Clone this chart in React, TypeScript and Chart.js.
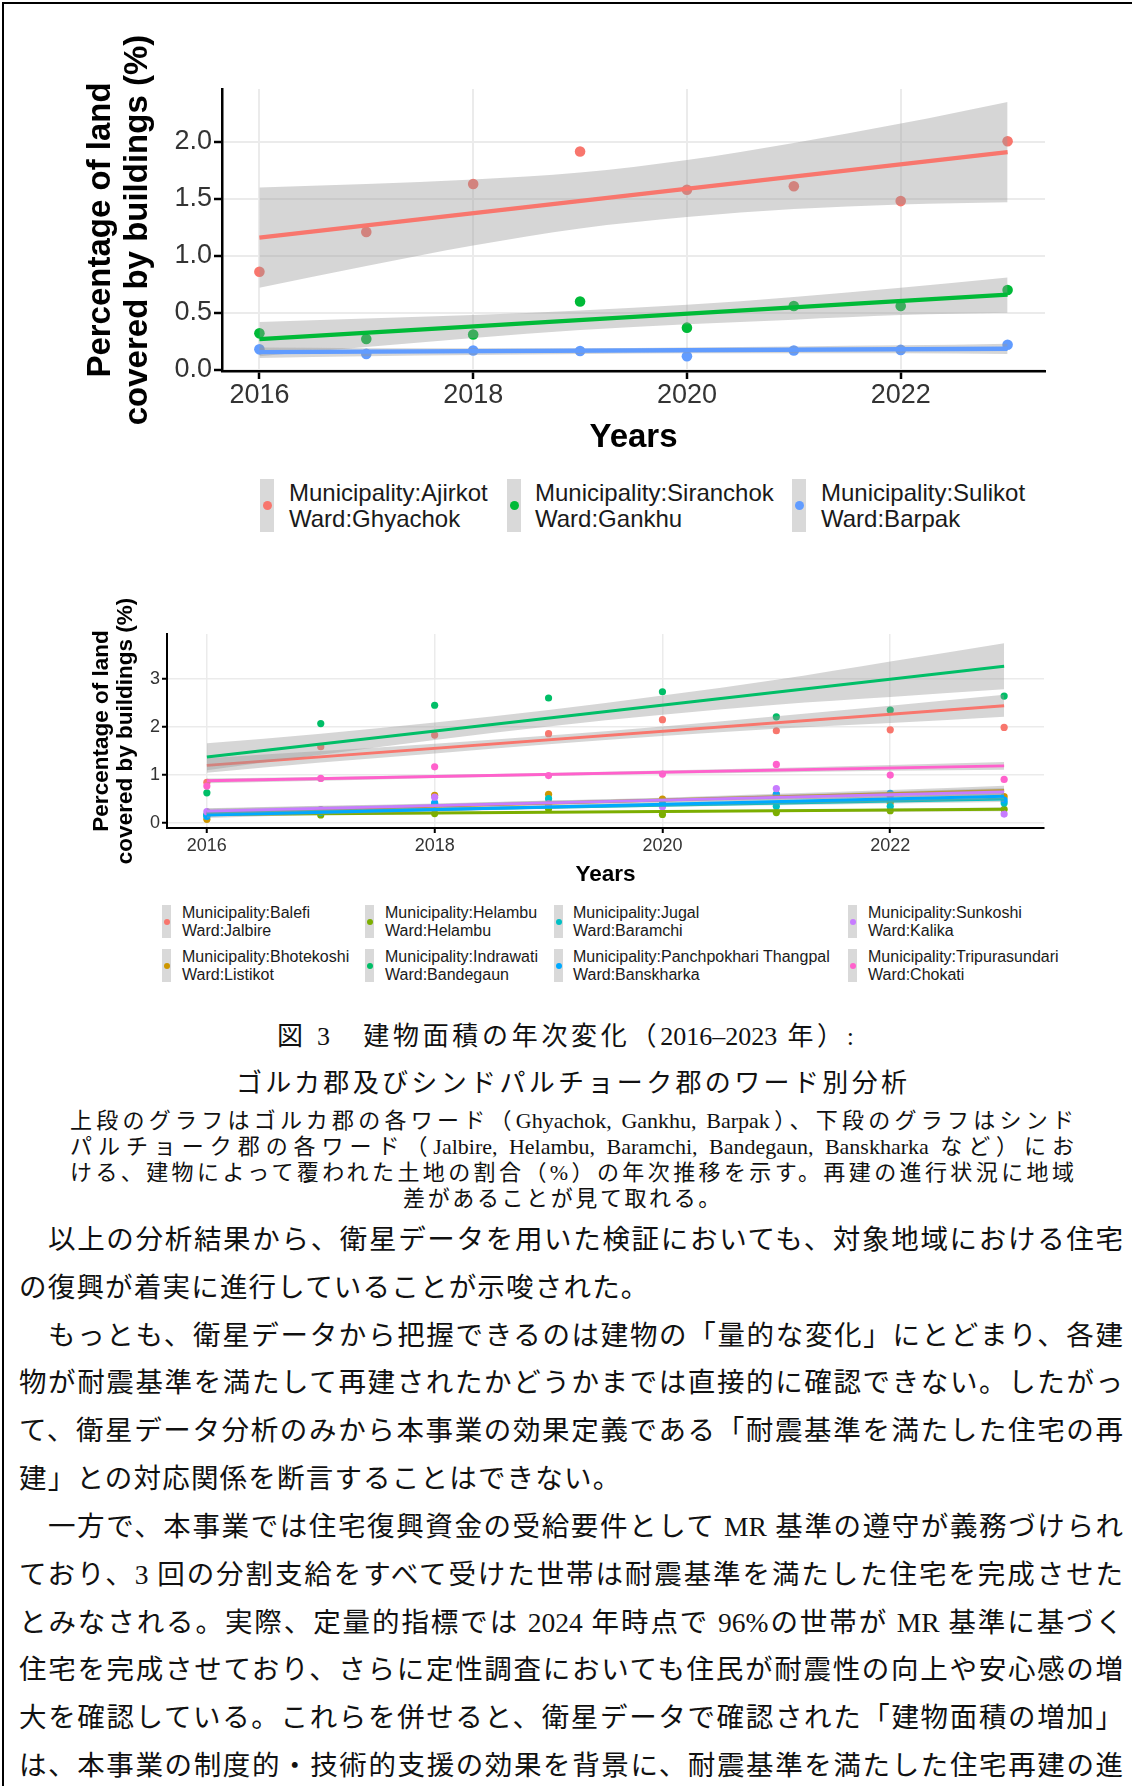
import React, { useEffect, useRef } from "react";
import { Chart, registerables } from "chart.js";

Chart.register(...registerables);

const SANS = '"Liberation Sans", Arial, Helvetica, sans-serif';
const SERIF_JP = '"Liberation Serif", "Noto Sans CJK JP", serif';

// ---------- shared ----------
const years = [2016, 2017, 2018, 2019, 2020, 2021, 2022, 2023];
const fitYears = [2016, 2023];
const xTickValues = [2016, 2018, 2020, 2022];
const xTickLabels = ["2016", "2018", "2020", "2022"];
const xAxisTitle = "Years";
const yAxisTitle = ["Percentage of land", "covered by buildings (%)"];

// ---------- top chart (Gorkha) ----------
const topMunicipalities = ["Municipality:Ajirkot", "Municipality:Siranchok", "Municipality:Sulikot"];
const topWards = ["Ward:Ghyachok", "Ward:Gankhu", "Ward:Barpak"];
const topColors = ["#F8766D", "#00BA38", "#619CFF"];
const ghyachokValues = [0.86, 1.21, 1.63, 1.915, 1.58, 1.61, 1.48, 2.005];
const gankhuValues = [0.32, 0.27, 0.31, 0.6, 0.37, 0.56, 0.56, 0.7];
const barpakValues = [0.18, 0.14, 0.17, 0.165, 0.12, 0.17, 0.175, 0.22];
const ghyachokFit = [1.16, 1.91];
const gankhuFit = [0.27, 0.66];
const barpakFit = [0.155, 0.185];
const ghyachokUpper = [1.6, 1.63, 1.67, 1.73, 1.84, 1.99, 2.16, 2.35];
const ghyachokLower = [0.72, 0.91, 1.09, 1.24, 1.34, 1.41, 1.45, 1.47];
const gankhuUpper = [0.42, 0.45, 0.48, 0.52, 0.57, 0.64, 0.72, 0.81];
const gankhuLower = [0.12, 0.2, 0.28, 0.35, 0.4, 0.44, 0.48, 0.5];
const barpakUpper = [0.195, 0.19, 0.19, 0.19, 0.195, 0.205, 0.215, 0.23];
const barpakLower = [0.105, 0.12, 0.13, 0.14, 0.145, 0.145, 0.145, 0.14];
const topYTickValues = [0, 0.5, 1, 1.5, 2];
const topYTickLabels = ["0.0", "0.5", "1.0", "1.5", "2.0"];

// ---------- bottom chart (Sindhupalchok) ----------
const bottomMunicipalities = [
  "Municipality:Balefi",
  "Municipality:Bhotekoshi",
  "Municipality:Helambu",
  "Municipality:Indrawati",
  "Municipality:Jugal",
  "Municipality:Panchpokhari Thangpal",
  "Municipality:Sunkoshi",
  "Municipality:Tripurasundari",
];
const bottomWards = [
  "Ward:Jalbire",
  "Ward:Listikot",
  "Ward:Helambu",
  "Ward:Bandegaun",
  "Ward:Baramchi",
  "Ward:Banskharka",
  "Ward:Kalika",
  "Ward:Chokati",
];
const bottomColors = ["#F8766D", "#CD9600", "#7CAE00", "#00BE67", "#00BFC4", "#00A9FF", "#C77CFF", "#FF61CC"];
const jalbireValues = [0.85, 1.59, 1.83, 1.86, 2.15, 1.92, 1.94, 1.99];
const listikotValues = [0.08, 0.22, 0.58, 0.6, 0.5, 0.6, 0.43, 0.55];
const helambuValues = [0.17, 0.17, 0.2, 0.3, 0.18, 0.22, 0.26, 0.29];
const bandegaunValues = [0.63, 2.07, 2.45, 2.6, 2.73, 2.21, 2.35, 2.64];
const baramchiValues = [0.18, 0.22, 0.4, 0.51, 0.4, 0.35, 0.35, 0.42];
const banskharkaValues = [0.14, 0.24, 0.42, 0.38, 0.38, 0.6, 0.62, 0.48];
const kalikaValues = [0.24, 0.28, 0.54, 0.4, 0.34, 0.72, 0.55, 0.19];
const chokatiValues = [0.77, 0.93, 1.17, 0.99, 1.02, 1.22, 1.0, 0.91];

const jalbireFit = [1.2, 2.44];
const listikotFit = [0.22, 0.68];
const helambuFit = [0.18, 0.29];
const bandegaunFit = [1.375, 3.26];
const baramchiFit = [0.2, 0.5];
const banskharkaFit = [0.17, 0.56];
const kalikaFit = [0.25, 0.65];
const chokatiFit = [0.88, 1.19];

const jalbireUpper = [1.35, 1.5, 1.65, 1.82, 2.01, 2.22, 2.44, 2.67];
const jalbireLower = [1.05, 1.26, 1.45, 1.64, 1.81, 1.96, 2.08, 2.21];
const listikotUpper = [0.3, 0.35, 0.4, 0.47, 0.53, 0.61, 0.69, 0.78];
const listikotLower = [0.14, 0.23, 0.3, 0.37, 0.43, 0.49, 0.53, 0.58];
const helambuUpper = [0.22, 0.23, 0.235, 0.25, 0.26, 0.285, 0.3, 0.33];
const helambuLower = [0.14, 0.17, 0.185, 0.21, 0.22, 0.235, 0.24, 0.25];
const bandegaunUpper = [1.66, 1.86, 2.09, 2.35, 2.65, 2.98, 3.36, 3.74];
const bandegaunLower = [1.1, 1.42, 1.73, 2.01, 2.25, 2.46, 2.62, 2.78];
const baramchiUpper = [0.25, 0.28, 0.32, 0.36, 0.4, 0.45, 0.51, 0.56];
const baramchiLower = [0.15, 0.2, 0.26, 0.3, 0.34, 0.37, 0.41, 0.44];
const banskharkaUpper = [0.23, 0.28, 0.32, 0.375, 0.43, 0.5, 0.56, 0.63];
const banskharkaLower = [0.11, 0.18, 0.24, 0.305, 0.35, 0.4, 0.44, 0.49];
const kalikaUpper = [0.31, 0.36, 0.41, 0.465, 0.52, 0.59, 0.66, 0.73];
const kalikaLower = [0.19, 0.26, 0.33, 0.395, 0.44, 0.49, 0.54, 0.59];
const chokatiUpper = [0.93, 0.96, 1.0, 1.04, 1.095, 1.145, 1.21, 1.27];
const chokatiLower = [0.83, 0.88, 0.94, 0.98, 1.025, 1.055, 1.09, 1.11];
const bottomYTickValues = [0, 1, 2, 3];
const bottomYTickLabels = ["0", "1", "2", "3"];

// ---------- text ----------
const captionTitle = ["図 3　建物面積の年次変化（2016–2023 年）:", "ゴルカ郡及びシンドパルチョーク郡のワード別分析"];
const captionNote = [
  "上段のグラフはゴルカ郡の各ワード（Ghyachok, Gankhu, Barpak）、下段のグラフはシンド",
  "パルチョーク郡の各ワード（Jalbire, Helambu, Baramchi, Bandegaun, Banskharka など）にお",
  "ける、建物によって覆われた土地の割合（%）の年次推移を示す。再建の進行状況に地域",
  "差があることが見て取れる。",
];
const bodyLines = [
  "以上の分析結果から、衛星データを用いた検証においても、対象地域における住宅",
  "の復興が着実に進行していることが示唆された。",
  "もっとも、衛星データから把握できるのは建物の「量的な変化」にとどまり、各建",
  "物が耐震基準を満たして再建されたかどうかまでは直接的に確認できない。したがっ",
  "て、衛星データ分析のみから本事業の効果定義である「耐震基準を満たした住宅の再",
  "建」との対応関係を断言することはできない。",
  "一方で、本事業では住宅復興資金の受給要件として MR 基準の遵守が義務づけられ",
  "ており、3 回の分割支給をすべて受けた世帯は耐震基準を満たした住宅を完成させた",
  "とみなされる。実際、定量的指標では 2024 年時点で 96%の世帯が MR 基準に基づく",
  "住宅を完成させており、さらに定性調査においても住民が耐震性の向上や安心感の増",
  "大を確認している。これらを併せると、衛星データで確認された「建物面積の増加」",
  "は、本事業の制度的・技術的支援の効果を背景に、耐震基準を満たした住宅再建の進",
];
const bodyIndent = [true, false, true, false, false, false, true, false, false, false, false, false];
const bodyJustify = [true, false, true, true, true, false, true, true, true, true, true, true];

type Spec = {
  points: number[][];
  fits: number[][];
  uppers: number[][];
  lowers: number[][];
  colors: string[];
  pointRadius: number;
  lineWidth: number;
  xMin: number;
  xMax: number;
  yMin: number;
  yMax: number;
  yTickValues: number[];
  yTickLabels: string[];
  padding: { left: number; right: number; top: number; bottom: number };
  yAxisWidth: number;
  xAxisHeight: number;
  tickFont: number;
  tickLen: number;
  xTickPad: number;
  yTickPad: number;
  axisWidth: number;
  gridWidth: number;
  titleFont: number;
  yTitleLineHeight: number;
  yTitlePadTop: number;
  xTitlePadBottom: number;
};

function buildConfig(s: Spec): any {
  const datasets: any[] = [];
  s.points.forEach((vals, g) => {
    datasets.push({
      data: years.map((x, i) => ({ x, y: vals[i] })),
      showLine: false,
      pointRadius: s.pointRadius,
      pointHoverRadius: s.pointRadius,
      pointBackgroundColor: s.colors[g],
      pointBorderWidth: 0,
      borderColor: s.colors[g],
      backgroundColor: s.colors[g],
      fill: false,
    });
  });
  s.points.forEach((_, g) => {
    datasets.push({
      data: years.map((x, i) => ({ x, y: s.lowers[g][i] })),
      borderWidth: 0,
      borderColor: "rgba(0,0,0,0)",
      pointRadius: 0,
      pointHoverRadius: 0,
      fill: false,
      cubicInterpolationMode: "monotone",
    });
    datasets.push({
      data: years.map((x, i) => ({ x, y: s.uppers[g][i] })),
      borderWidth: 0,
      borderColor: "rgba(0,0,0,0)",
      pointRadius: 0,
      pointHoverRadius: 0,
      fill: "-1",
      backgroundColor: "rgba(153,153,153,0.4)",
      cubicInterpolationMode: "monotone",
    });
    datasets.push({
      data: fitYears.map((x, i) => ({ x, y: s.fits[g][i] })),
      borderColor: s.colors[g],
      borderWidth: s.lineWidth,
      pointRadius: 0,
      pointHoverRadius: 0,
      fill: false,
      borderCapStyle: "butt",
    });
  });
  const n = datasets.length;
  datasets.forEach((d, i) => (d.order = n - i));

  const gridColor = "#ebebeb";
  const tickColor = "#333333";
  return {
    type: "line",
    data: { datasets },
    options: {
      animation: false,
      responsive: false,
      events: [],
      layout: { padding: s.padding },
      plugins: { legend: { display: false }, tooltip: { enabled: false } },
      scales: {
        x: {
          type: "linear",
          bounds: "data",
          min: s.xMin,
          max: s.xMax,
          afterBuildTicks: (sc: any) => {
            sc.ticks = xTickValues.map((v) => ({ value: v }));
          },
          afterFit: (sc: any) => {
            sc.height = s.xAxisHeight;
          },
          ticks: {
            callback: (_v: any, i: number) => xTickLabels[i],
            font: { size: s.tickFont, family: SANS },
            color: tickColor,
            padding: s.xTickPad,
            maxRotation: 0,
            autoSkip: false,
          },
          grid: {
            color: gridColor,
            lineWidth: s.gridWidth,
            drawTicks: true,
            tickLength: s.tickLen,
            tickColor: "#000",
            tickWidth: s.axisWidth,
          },
          border: { color: "#000", width: s.axisWidth },
          title: {
            display: true,
            text: xAxisTitle,
            color: "#000",
            font: { size: s.titleFont, weight: "bold", family: SANS, lineHeight: 1.2 },
            padding: { top: 0, bottom: s.xTitlePadBottom },
          },
        },
        y: {
          type: "linear",
          bounds: "data",
          min: s.yMin,
          max: s.yMax,
          afterBuildTicks: (sc: any) => {
            sc.ticks = s.yTickValues.map((v) => ({ value: v }));
          },
          afterFit: (sc: any) => {
            sc.width = s.yAxisWidth;
          },
          ticks: {
            callback: (_v: any, i: number) => s.yTickLabels[i],
            font: { size: s.tickFont, family: SANS },
            color: tickColor,
            padding: s.yTickPad,
            autoSkip: false,
          },
          grid: {
            color: gridColor,
            lineWidth: s.gridWidth,
            drawTicks: true,
            tickLength: s.tickLen,
            tickColor: "#000",
            tickWidth: s.axisWidth,
          },
          border: { color: "#000", width: s.axisWidth },
          title: {
            display: true,
            text: yAxisTitle,
            color: "#000",
            font: {
              size: s.titleFont,
              weight: "bold",
              family: SANS,
              lineHeight: s.yTitleLineHeight / s.titleFont,
            },
            padding: { top: s.yTitlePadTop, bottom: 0 },
          },
        },
      },
    },
  };
}

const topSpec: Spec = {
  points: [ghyachokValues, gankhuValues, barpakValues],
  fits: [ghyachokFit, gankhuFit, barpakFit],
  uppers: [ghyachokUpper, gankhuUpper, barpakUpper],
  lowers: [ghyachokLower, gankhuLower, barpakLower],
  colors: topColors,
  pointRadius: 5.3,
  lineWidth: 4.3,
  xMin: 2015.65,
  xMax: 2023.35,
  yMin: -0.01,
  yMax: 2.463,
  yTickValues: topYTickValues,
  yTickLabels: topYTickLabels,
  padding: { left: 60, right: 87, top: 89, bottom: 0 },
  yAxisWidth: 162,
  xAxisHeight: 99,
  tickFont: 27,
  tickLen: 8,
  xTickPad: 0,
  yTickPad: 2,
  axisWidth: 2.5,
  gridWidth: 2,
  titleFont: 33,
  yTitleLineHeight: 37,
  yTitlePadTop: 22,
  xTitlePadBottom: 12,
};

const bottomSpec: Spec = {
  points: [jalbireValues, listikotValues, helambuValues, bandegaunValues, baramchiValues, banskharkaValues, kalikaValues, chokatiValues],
  fits: [jalbireFit, listikotFit, helambuFit, bandegaunFit, baramchiFit, banskharkaFit, kalikaFit, chokatiFit],
  uppers: [jalbireUpper, listikotUpper, helambuUpper, bandegaunUpper, baramchiUpper, banskharkaUpper, kalikaUpper, chokatiUpper],
  lowers: [jalbireLower, listikotLower, helambuLower, bandegaunLower, baramchiLower, banskharkaLower, kalikaLower, chokatiLower],
  colors: bottomColors,
  pointRadius: 3.6,
  lineWidth: 2.9,
  xMin: 2015.65,
  xMax: 2023.35,
  yMin: -0.1,
  yMax: 3.93,
  yTickValues: bottomYTickValues,
  yTickLabels: bottomYTickLabels,
  padding: { left: 70, right: 88, top: 74, bottom: 0 },
  yAxisWidth: 97,
  xAxisHeight: 62,
  tickFont: 18,
  tickLen: 5,
  xTickPad: 2,
  yTickPad: 2,
  axisWidth: 2,
  gridWidth: 1.5,
  titleFont: 22.5,
  yTitleLineHeight: 24,
  yTitlePadTop: 20,
  xTitlePadBottom: 2,
};

function ChartCanvas(props: { spec: Spec; left: number; top: number; width: number; height: number }) {
  const ref = useRef<HTMLCanvasElement | null>(null);
  useEffect(() => {
    const chart = new Chart(ref.current as HTMLCanvasElement, buildConfig(props.spec));
    return () => chart.destroy();
  }, []);
  return (
    <canvas
      ref={ref}
      width={props.width}
      height={props.height}
      style={{ position: "absolute", left: props.left, top: props.top, width: props.width, height: props.height }}
    />
  );
}

function LegendItem(props: {
  keyLeft: number;
  keyTop: number;
  keyW: number;
  keyH: number;
  dot: number;
  color: string;
  textLeft: number;
  textTop: number;
  fontSize: number;
  lineHeight: number;
  line1: string;
  line2: string;
}) {
  const p = props;
  return (
    <>
      <div style={{ position: "absolute", left: p.keyLeft, top: p.keyTop, width: p.keyW, height: p.keyH, background: "#d9d9d9" }}>
        <div
          style={{
            position: "absolute",
            left: (p.keyW - p.dot) / 2,
            top: (p.keyH - p.dot) / 2,
            width: p.dot,
            height: p.dot,
            borderRadius: "50%",
            background: p.color,
          }}
        />
      </div>
      <div
        style={{
          position: "absolute",
          left: p.textLeft,
          top: p.textTop,
          fontFamily: SANS,
          fontSize: p.fontSize,
          lineHeight: p.lineHeight + "px",
          color: "#1a1a1a",
          whiteSpace: "nowrap",
        }}
      >
        {p.line1}
        <br />
        {p.line2}
      </div>
    </>
  );
}

function TextLine(props: {
  text: string;
  left: number;
  width: number;
  center: number;
  lh: number;
  size: number;
  align: "justify" | "left" | "center";
  spacing?: number;
}) {
  const p = props;
  return (
    <div
      style={{
        position: "absolute",
        left: p.left,
        width: p.width,
        top: p.center - p.lh / 2,
        height: p.lh,
        lineHeight: p.lh + "px",
        fontSize: p.size,
        fontFamily: SERIF_JP,
        color: "#111",
        textAlign: p.align,
        textAlignLast: p.align as any,
        letterSpacing: p.spacing ? p.spacing + "px" : undefined,
        overflow: "visible",
      }}
    >
      {p.text}
    </div>
  );
}

export default function App() {
  const topKeyLeft = [260, 507, 792];
  const topTextLeft = [289, 535, 821];
  const botKeyLeft = [162, 365, 554, 848];
  const botTextLeft = [182, 385, 573, 868];
  const bodyTop = 1240;
  const bodyStep = 47.83;
  return (
    <div style={{ position: "absolute", left: 0, top: 0, width: 1132, height: 1786, background: "#fff", overflow: "hidden" }}>
      <div
        style={{
          position: "absolute",
          left: 2,
          top: 2,
          width: 1130,
          height: 1784,
          borderLeft: "2px solid #000",
          borderTop: "2px solid #000",
          boxSizing: "border-box",
        }}
      />
      <ChartCanvas spec={topSpec} left={0} top={0} width={1132} height={470} />
      {topMunicipalities.map((m, i) => (
        <LegendItem
          key={"t" + i}
          keyLeft={topKeyLeft[i]}
          keyTop={479}
          keyW={14}
          keyH={53}
          dot={9}
          color={topColors[i]}
          textLeft={topTextLeft[i]}
          textTop={480}
          fontSize={24}
          lineHeight={26}
          line1={m}
          line2={topWards[i]}
        />
      ))}
      <ChartCanvas spec={bottomSpec} left={0} top={560} width={1132} height={330} />
      {bottomMunicipalities.map((m, i) => {
        const col = Math.floor(i / 2);
        const row = i % 2;
        return (
          <LegendItem
            key={"b" + i}
            keyLeft={botKeyLeft[col]}
            keyTop={row === 0 ? 905 : 949}
            keyW={9}
            keyH={33}
            dot={6}
            color={bottomColors[i]}
            textLeft={botTextLeft[col]}
            textTop={row === 0 ? 904 : 948}
            fontSize={16}
            lineHeight={18}
            line1={m}
            line2={bottomWards[i]}
          />
        );
      })}
      <TextLine text={captionTitle[0]} left={277} width={577} center={1037} lh={40} size={26} align="justify" />
      <TextLine text={captionTitle[1]} left={236} width={671} center={1084} lh={40} size={26} align="justify" />
      {captionNote.map((t, i) =>
        i < 3 ? (
          <TextLine key={"n" + i} text={t} left={70} width={1004} center={1121 + i * 26.1} lh={26} size={22} align="justify" />
        ) : (
          <TextLine key={"n" + i} text={t} left={263} width={600} center={1121 + i * 26.1} lh={26} size={22} align="center" spacing={2.6} />
        )
      )}
      {bodyLines.map((t, i) => (
        <TextLine
          key={"b" + i}
          text={t}
          left={bodyIndent[i] ? 48 : 19}
          width={bodyIndent[i] ? 1075 : 1104}
          center={bodyTop + i * bodyStep}
          lh={46}
          size={27.5}
          align={bodyJustify[i] ? "justify" : "left"}
          spacing={bodyJustify[i] ? 0 : 1.2}
        />
      ))}
    </div>
  );
}
